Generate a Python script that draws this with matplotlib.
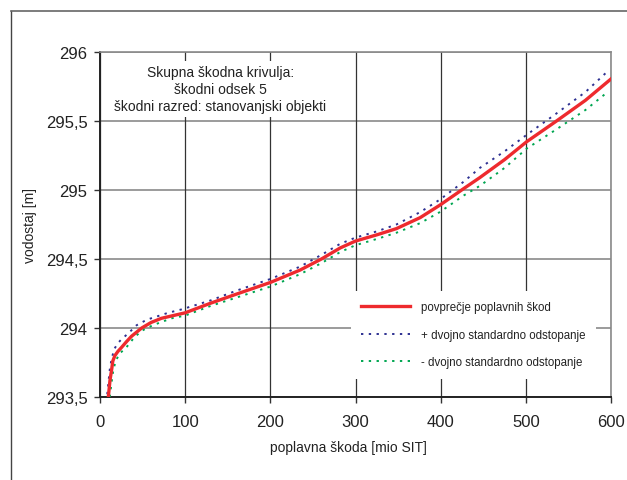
import matplotlib
matplotlib.use("Agg")
import matplotlib.pyplot as plt
from matplotlib.lines import Line2D

plt.rcParams['font.family'] = ['Liberation Sans', 'DejaVu Sans']

# povprecje poplavnih skod (mio SIT -> vodostaj m)
x_mean = [9.8, 11.7, 13.7, 15.0, 17.5, 21, 25.4, 31, 37, 43, 49, 60, 72, 86, 100,
          130, 160, 200, 235, 260, 282, 300, 325, 348, 376, 399, 427, 446, 475,
          501, 536, 570, 601]
y_mean = [293.50, 293.62, 293.70, 293.76, 293.80, 293.83, 293.86, 293.90, 293.94,
          293.97, 294.00, 294.04, 294.07, 294.09, 294.11, 294.18, 294.245, 294.33,
          294.42, 294.50, 294.58, 294.63, 294.675, 294.72, 294.80, 294.89, 295.01,
          295.09, 295.22, 295.35, 295.50, 295.65, 295.81]

# + dvojno standardno odstopanje
x_plus = [8.5, 9.8, 11.5, 13.7, 17, 21, 25.5, 33, 43, 55, 65, 80, 96, 130, 160,
          200, 235, 260, 282, 300, 325, 348, 376, 399, 427, 446, 475, 501, 536,
          570, 596]
y_plus = [293.52, 293.60, 293.70, 293.78, 293.85, 293.89, 293.92, 293.96, 294.02,
          294.06, 294.08, 294.11, 294.135, 294.20, 294.27, 294.355, 294.445, 294.53,
          294.61, 294.655, 294.70, 294.75, 294.84, 294.93, 295.06, 295.16, 295.28,
          295.40, 295.555, 295.71, 295.86]

# - dvojno standardno odstopanje
x_minus = [11.5, 13.5, 15.7, 19, 24, 31, 40, 49, 62, 84, 100, 130, 160, 200, 235,
           260, 282, 300, 325, 348, 376, 399, 427, 446, 475, 501, 536, 570, 596]
y_minus = [293.50, 293.60, 293.70, 293.77, 293.82, 293.86, 293.93, 293.98, 294.02,
           294.07, 294.09, 294.16, 294.22, 294.30, 294.39, 294.47, 294.55, 294.60,
           294.645, 294.69, 294.76, 294.84, 294.96, 295.03, 295.16, 295.30, 295.44,
           295.58, 295.71]

xticks = [0, 100, 200, 300, 400, 500, 600]
yticks = [293.5, 294, 294.5, 295, 295.5, 296]
ytick_labels = ['293,5', '294', '294,5', '295', '295,5', '296']

fig = plt.figure(figsize=(6.27, 4.81), dpi=100)
ax = fig.add_axes([0.1595, 0.1726, 0.815, 0.7172])

# okvir slike (samo levi in zgornji rob)
fig.add_artist(Line2D([11/627, 11/627], [0, 1 - 12/481], color='#444444', lw=1.0))
fig.add_artist(Line2D([11/627, 1], [1 - 12/481, 1 - 12/481], color='#666666', lw=1.2))

# mreza
for yv in yticks:
    ax.axhline(yv, color='#8a8a8a', lw=1.2, zorder=0)
for xv in xticks:
    ax.axvline(xv, color='#333333', lw=0.9, zorder=0)

ax.plot(x_mean, y_mean, color='#ee2a2e', lw=2.4, label='povprečje poplavnih škod', zorder=4)
ax.plot(x_plus, y_plus, color='#2e3192', lw=1.4, ls=(0, (1.2, 2.8)),
        label='+ dvojno standardno odstopanje', zorder=3)
ax.plot(x_minus, y_minus, color='#00a651', lw=1.4, ls=(0, (1.2, 2.8)),
        label='- dvojno standardno odstopanje', zorder=3)

ax.set_xlim(0, 600)
ax.set_ylim(293.5, 296)
ax.set_xticks(xticks)
ax.set_yticks(yticks)
ax.set_yticklabels(ytick_labels)
ax.tick_params(axis='both', direction='out', length=4, width=1, color='#333333',
               labelsize=12, labelcolor='#222222')
ax.tick_params(axis='x', pad=8)
ax.tick_params(axis='y', pad=5)

for s in ['left', 'bottom']:
    ax.spines[s].set_color('#222222')
    ax.spines[s].set_linewidth(1.4)
for s in ['top', 'right']:
    ax.spines[s].set_color('#8a8a8a')
    ax.spines[s].set_linewidth(1.2)

ax.set_xlabel('poplavna škoda [mio SIT]', fontsize=10, color='#222222', labelpad=9)
ax.xaxis.set_label_coords(0.486, -0.125)
ax.set_ylabel('vodostaj [m]', fontsize=10, color='#222222', labelpad=6)

ax.text(0.235, 0.962, 'Skupna škodna krivulja:\nškodni odsek 5\nškodni razred: stanovanjski objekti',
        transform=ax.transAxes, ha='center', va='top', fontsize=10, color='#222222',
        linespacing=1.25, zorder=5,
        bbox=dict(facecolor='white', edgecolor='none', pad=3))

leg = ax.legend(loc='upper left', bbox_to_anchor=(0.48, 0.325), fontsize=8.3,
                frameon=True, fancybox=False, edgecolor='none', facecolor='white',
                framealpha=1, handlelength=4.2, handletextpad=1.0, labelspacing=1.35,
                borderpad=0.9)
for t in leg.get_texts():
    t.set_color('#222222')

fig.savefig('out.png', dpi=100)
